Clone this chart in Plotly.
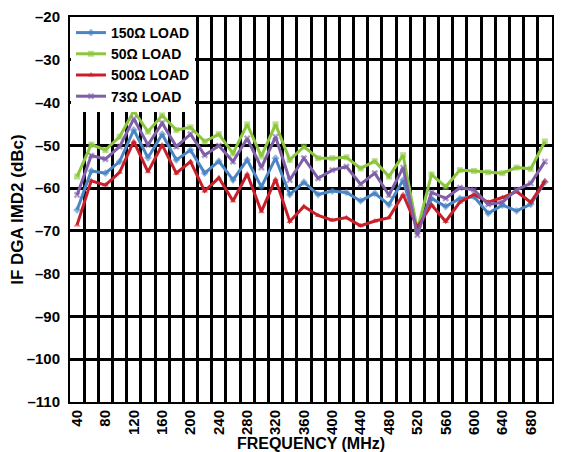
import plotly.graph_objects as go

freq = list(range(40, 701, 20))

load_150 = [-65.1, -56.0, -56.5, -53.8, -46.4, -52.9, -47.4, -53.4, -51.1, -56.5, -53.7, -58.1,
            -53.4, -59.7, -53.0, -61.5, -58.6, -61.5, -60.7, -61.0, -63.0, -61.2, -63.9, -58.1,
            -69.8, -62.4, -64.3, -62.4, -62.0, -65.9, -64.0, -65.3, -63.8, -58.6]
load_50 = [-57.3, -49.8, -51.1, -48.0, -42.0, -46.8, -43.0, -46.4, -45.8, -49.1, -47.4, -51.9,
           -45.1, -52.6, -45.1, -53.4, -50.3, -53.0, -53.0, -52.8, -55.4, -53.7, -57.3, -52.3,
           -69.8, -56.8, -59.7, -55.8, -56.0, -56.3, -56.5, -55.2, -55.5, -49.1]
load_500 = [-68.6, -58.3, -59.3, -56.3, -49.1, -56.2, -49.9, -56.5, -53.8, -60.7, -57.6, -63.0,
            -56.7, -65.5, -57.9, -67.8, -64.3, -66.4, -67.5, -66.9, -68.8, -67.7, -66.9, -61.5,
            -69.2, -63.9, -67.8, -63.3, -61.5, -63.3, -62.2, -60.8, -63.3, -58.3]
load_73 = [-61.6, -52.4, -53.2, -50.3, -43.8, -49.9, -44.8, -50.3, -47.4, -52.3, -50.1, -53.8,
           -48.4, -55.2, -48.0, -58.1, -53.0, -57.7, -55.8, -55.0, -59.1, -56.5, -61.6, -55.2,
           -71.0, -61.0, -62.4, -59.9, -60.4, -63.8, -63.3, -60.4, -58.9, -53.8]

series_names = ["150Ω LOAD", "50Ω LOAD", "500Ω LOAD", "73Ω LOAD"]
series_values = [load_150, load_50, load_500, load_73]
series_colors = ["#4a86c5", "#8cc63e", "#c8202a", "#7f5fa8"]
series_symbols = ["diamond", "square", "triangle-up", "x"]

x_tick_vals = list(range(40, 681, 40))
y_tick_vals = list(range(-110, -19, 10))
y_tick_text = ["–" + str(abs(v)) for v in y_tick_vals]

FONT = "Liberation Sans, Arial, sans-serif"


def bold(size):
    return dict(family=FONT, size=size, color="black", weight="bold")


fig = go.Figure()
for name, vals, col, sym in zip(series_names, series_values, series_colors, series_symbols):
    fig.add_trace(go.Scatter(
        x=freq, y=vals, name=name, mode="lines+markers",
        line=dict(color=col, width=3),
        marker=dict(symbol=sym, size=6, color=col, opacity=0.6),
    ))

# the page body adds an 8px margin, so the figure is sized/offset to compensate
fig.update_layout(
    width=554, height=444,
    margin=dict(l=62, r=10, t=9, b=50, autoexpand=False),
    paper_bgcolor="white", plot_bgcolor="white",
    font=bold(15),
    showlegend=True,
    legend=dict(
        x=0.002, y=1.0, xanchor="left", yanchor="top",
        bgcolor="white", borderwidth=0,
        font=bold(14),
        tracegroupgap=0, itemwidth=30,
    ),
)

fig.update_xaxes(
    range=[30, 710], automargin=True,
    tickvals=x_tick_vals, ticktext=[str(v) for v in x_tick_vals],
    tickangle=-90, showgrid=False, ticks="",
    tickfont=bold(15),
    showline=True, linecolor="black", linewidth=2, mirror=True,
    minor=dict(tick0=30, dtick=20, showgrid=True, gridcolor="black", gridwidth=2.5),
    title=dict(text="FREQUENCY (MHz)", font=bold(16), standoff=2),
    zeroline=False,
)
fig.update_yaxes(
    range=[-110, -20], automargin=True,
    tickvals=y_tick_vals, ticktext=y_tick_text,
    showgrid=True, gridcolor="black", gridwidth=2.5, ticks="",
    ticklabelstandoff=5,
    tickfont=bold(15),
    showline=True, linecolor="black", linewidth=2, mirror=True,
    title=dict(text="IF DGA IMD2 (dBc)", font=bold(17), standoff=4),
    zeroline=False,
)

fig.write_html("out.html")
